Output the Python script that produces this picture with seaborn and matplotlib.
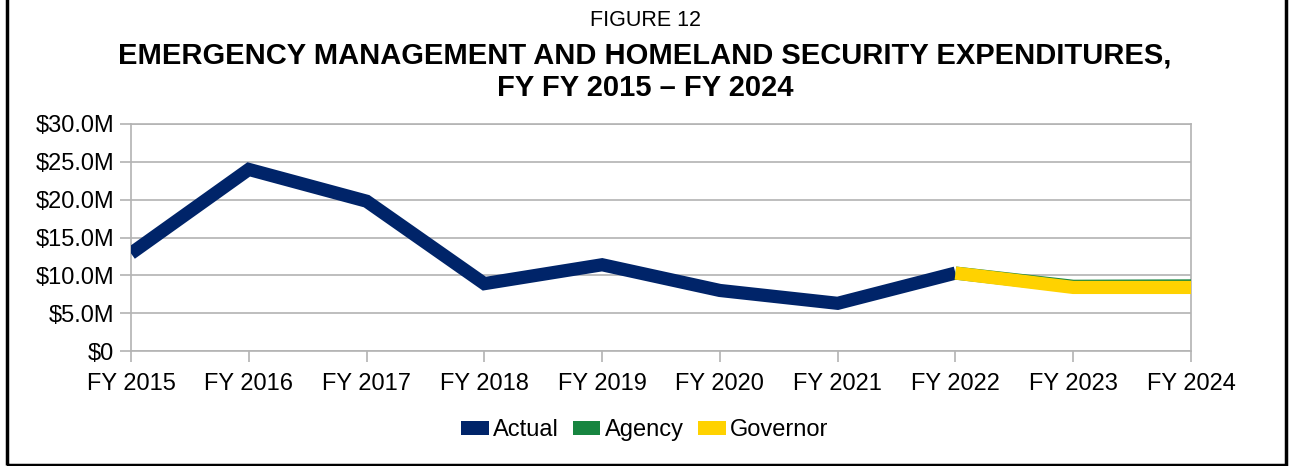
import pandas as pd
import seaborn as sns
import matplotlib.pyplot as plt
from matplotlib.patches import Patch, Rectangle
from matplotlib.ticker import FuncFormatter

# --- dados (em milhões de dólares) ---
years = ["FY 2015", "FY 2016", "FY 2017", "FY 2018", "FY 2019",
         "FY 2020", "FY 2021", "FY 2022", "FY 2023", "FY 2024"]
actual = [12.9, 24.0, 19.8, 8.9, 11.4, 8.0, 6.3, 10.3]
agency = [10.3, 8.55, 8.6]
governor = [10.3, 8.4, 8.4]

series_colors = {"Actual": "#002469", "Agency": "#178540", "Governor": "#FFD200"}

rows = []
for i, v in enumerate(actual):
    rows.append({"idx": i, "value": v, "series": "Actual"})
for i, v in enumerate(agency):
    rows.append({"idx": 7 + i, "value": v, "series": "Agency"})
for i, v in enumerate(governor):
    rows.append({"idx": 7 + i, "value": v, "series": "Governor"})
df = pd.DataFrame(rows)

sns.set_theme(style="white")
plt.rcParams['font.family'] = ['Liberation Sans', 'DejaVu Sans']
plt.rcParams['text.color'] = 'black'

fig = plt.figure(figsize=(12.9, 4.66), dpi=100)
ax = fig.add_axes([131 / 1290, 1 - 351 / 466, 1060 / 1290, 227 / 466])

for name in ["Actual", "Agency", "Governor"]:
    sns.lineplot(data=df[df["series"] == name], x="idx", y="value",
                 color=series_colors[name], linewidth=9.5, ax=ax,
                 solid_joinstyle="miter", solid_capstyle="butt",
                 legend=False, zorder=3)

ax.set_xlim(0, 9)
ax.set_ylim(0, 30)
ax.set_xticks(range(len(years)))
ax.set_xticklabels(years)
ax.set_yticks(range(0, 31, 5))
ax.yaxis.set_major_formatter(FuncFormatter(lambda v, p: "$0" if v == 0 else f"${v:.1f}M"))
ax.set_xlabel("")
ax.set_ylabel("")

ax.grid(axis="y", color="#b3b3b3", linewidth=1.2)
ax.grid(axis="x", visible=False)
for s in ax.spines.values():
    s.set_color("#b3b3b3")
    s.set_linewidth(1.2)
ax.tick_params(axis="both", which="major", length=8, width=1.2, color="#b3b3b3",
               labelsize=17, labelcolor="black", direction="out", pad=4)
ax.tick_params(axis="x", pad=8)
ax.tick_params(left=True, bottom=True)

# títulos
fig.text(0.5, 1 - 20 / 466, "FIGURE 12", ha="center", va="center", fontsize=15.5)
fig.text(0.5, 1 - 55 / 466, "EMERGENCY MANAGEMENT AND HOMELAND SECURITY EXPENDITURES,",
         ha="center", va="center", fontsize=21, fontweight="bold")
fig.text(0.5, 1 - 88 / 466, "FY FY 2015 \u2013 FY 2024",
         ha="center", va="center", fontsize=21, fontweight="bold")

# legenda
handles = [Patch(facecolor=series_colors[n], edgecolor="none", label=n) for n in series_colors]
fig.legend(handles=handles, loc="center", bbox_to_anchor=(0.5, 1 - 430 / 466), ncol=3,
           frameon=False, fontsize=17, handlelength=1.15, handleheight=0.55,
           handletextpad=0.2, columnspacing=0.6)

# moldura
fig.patches.append(Rectangle((7 / 1290, 1.5 / 466), 1279 / 1290, 1.2, transform=fig.transFigure,
                             fill=False, edgecolor="black", linewidth=2.5))

fig.savefig("out.png", dpi=100)
